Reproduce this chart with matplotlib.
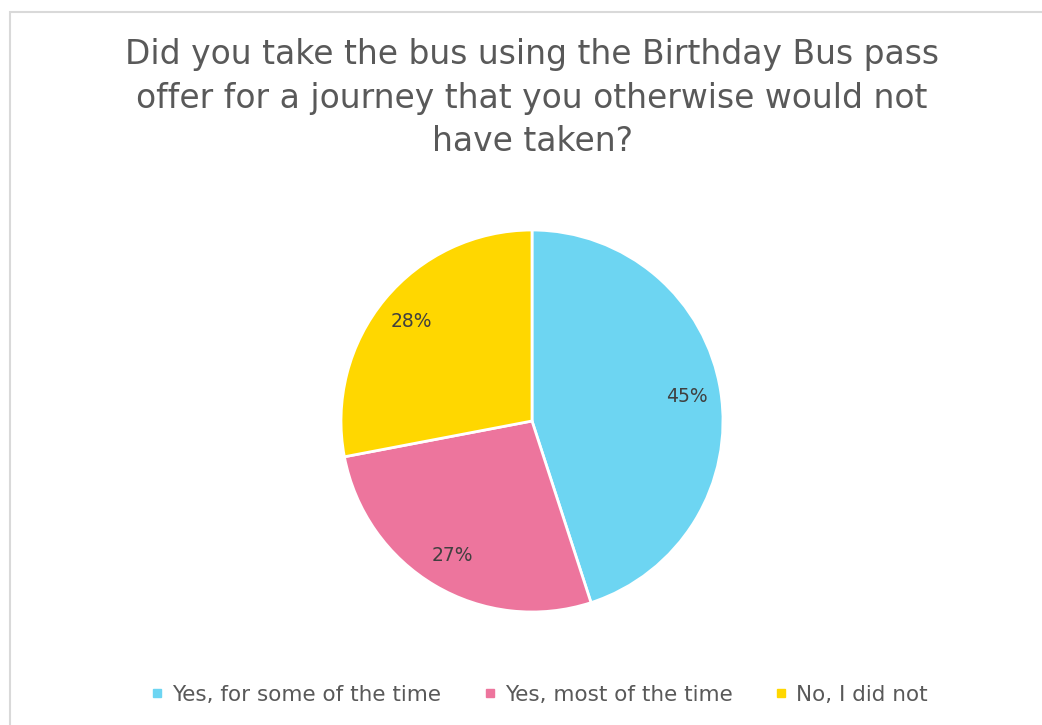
import matplotlib.pyplot as plt
from matplotlib.lines import Line2D
from matplotlib.patches import Rectangle

# Survey responses
answers = ["Yes, for some of the time", "Yes, most of the time", "No, I did not"]
shares = [45, 27, 28]
colours = ["#6DD5F2", "#ED759D", "#FFD700"]

title = ("Did you take the bus using the Birthday Bus pass\n"
         "offer for a journey that you otherwise would not\n"
         "have taken?")

W, H = 1042, 725
fig = plt.figure(figsize=(W / 100, H / 100), dpi=100)
plt.rcParams['font.family'] = ['DejaVu Sans']

# light frame round the chart area
fig.patches.append(Rectangle((10 / W, -0.1), 1.2, (H - 12) / H + 0.1,
                             transform=fig.transFigure, fill=False,
                             edgecolor="#D9D9D9", linewidth=1.5))

fig.text(532 / W, 1 - 38 / H, title, ha="center", va="top",
         fontsize=23.7, color="#595959", linespacing=1.41)

# pie centred at (532, 421) px with radius 191 px
r = 191
ax = fig.add_axes([(532 - r) / W, (H - 421 - r) / H, 2 * r / W, 2 * r / H])
wedges, _, autotexts = ax.pie(shares, colors=colours, startangle=90, counterclock=False,
                              autopct="%d%%", pctdistance=0.82,
                              wedgeprops=dict(edgecolor="white", linewidth=2),
                              textprops=dict(color="#404040", fontsize=13.5))
ax.set_xlim(-1, 1)
ax.set_ylim(-1, 1)

handles = [Line2D([], [], marker="s", linestyle="none", markersize=6,
                  markerfacecolor=c, markeredgecolor=c) for c in colours]
fig.legend(handles, answers, loc="center", bbox_to_anchor=(540 / W, 1 - 695 / H),
           ncol=3, frameon=False, fontsize=15.5, handlelength=0.5, handletextpad=0.45,
           columnspacing=2.0, labelcolor="#595959")

fig.savefig("out.png", dpi=100, facecolor="white")
